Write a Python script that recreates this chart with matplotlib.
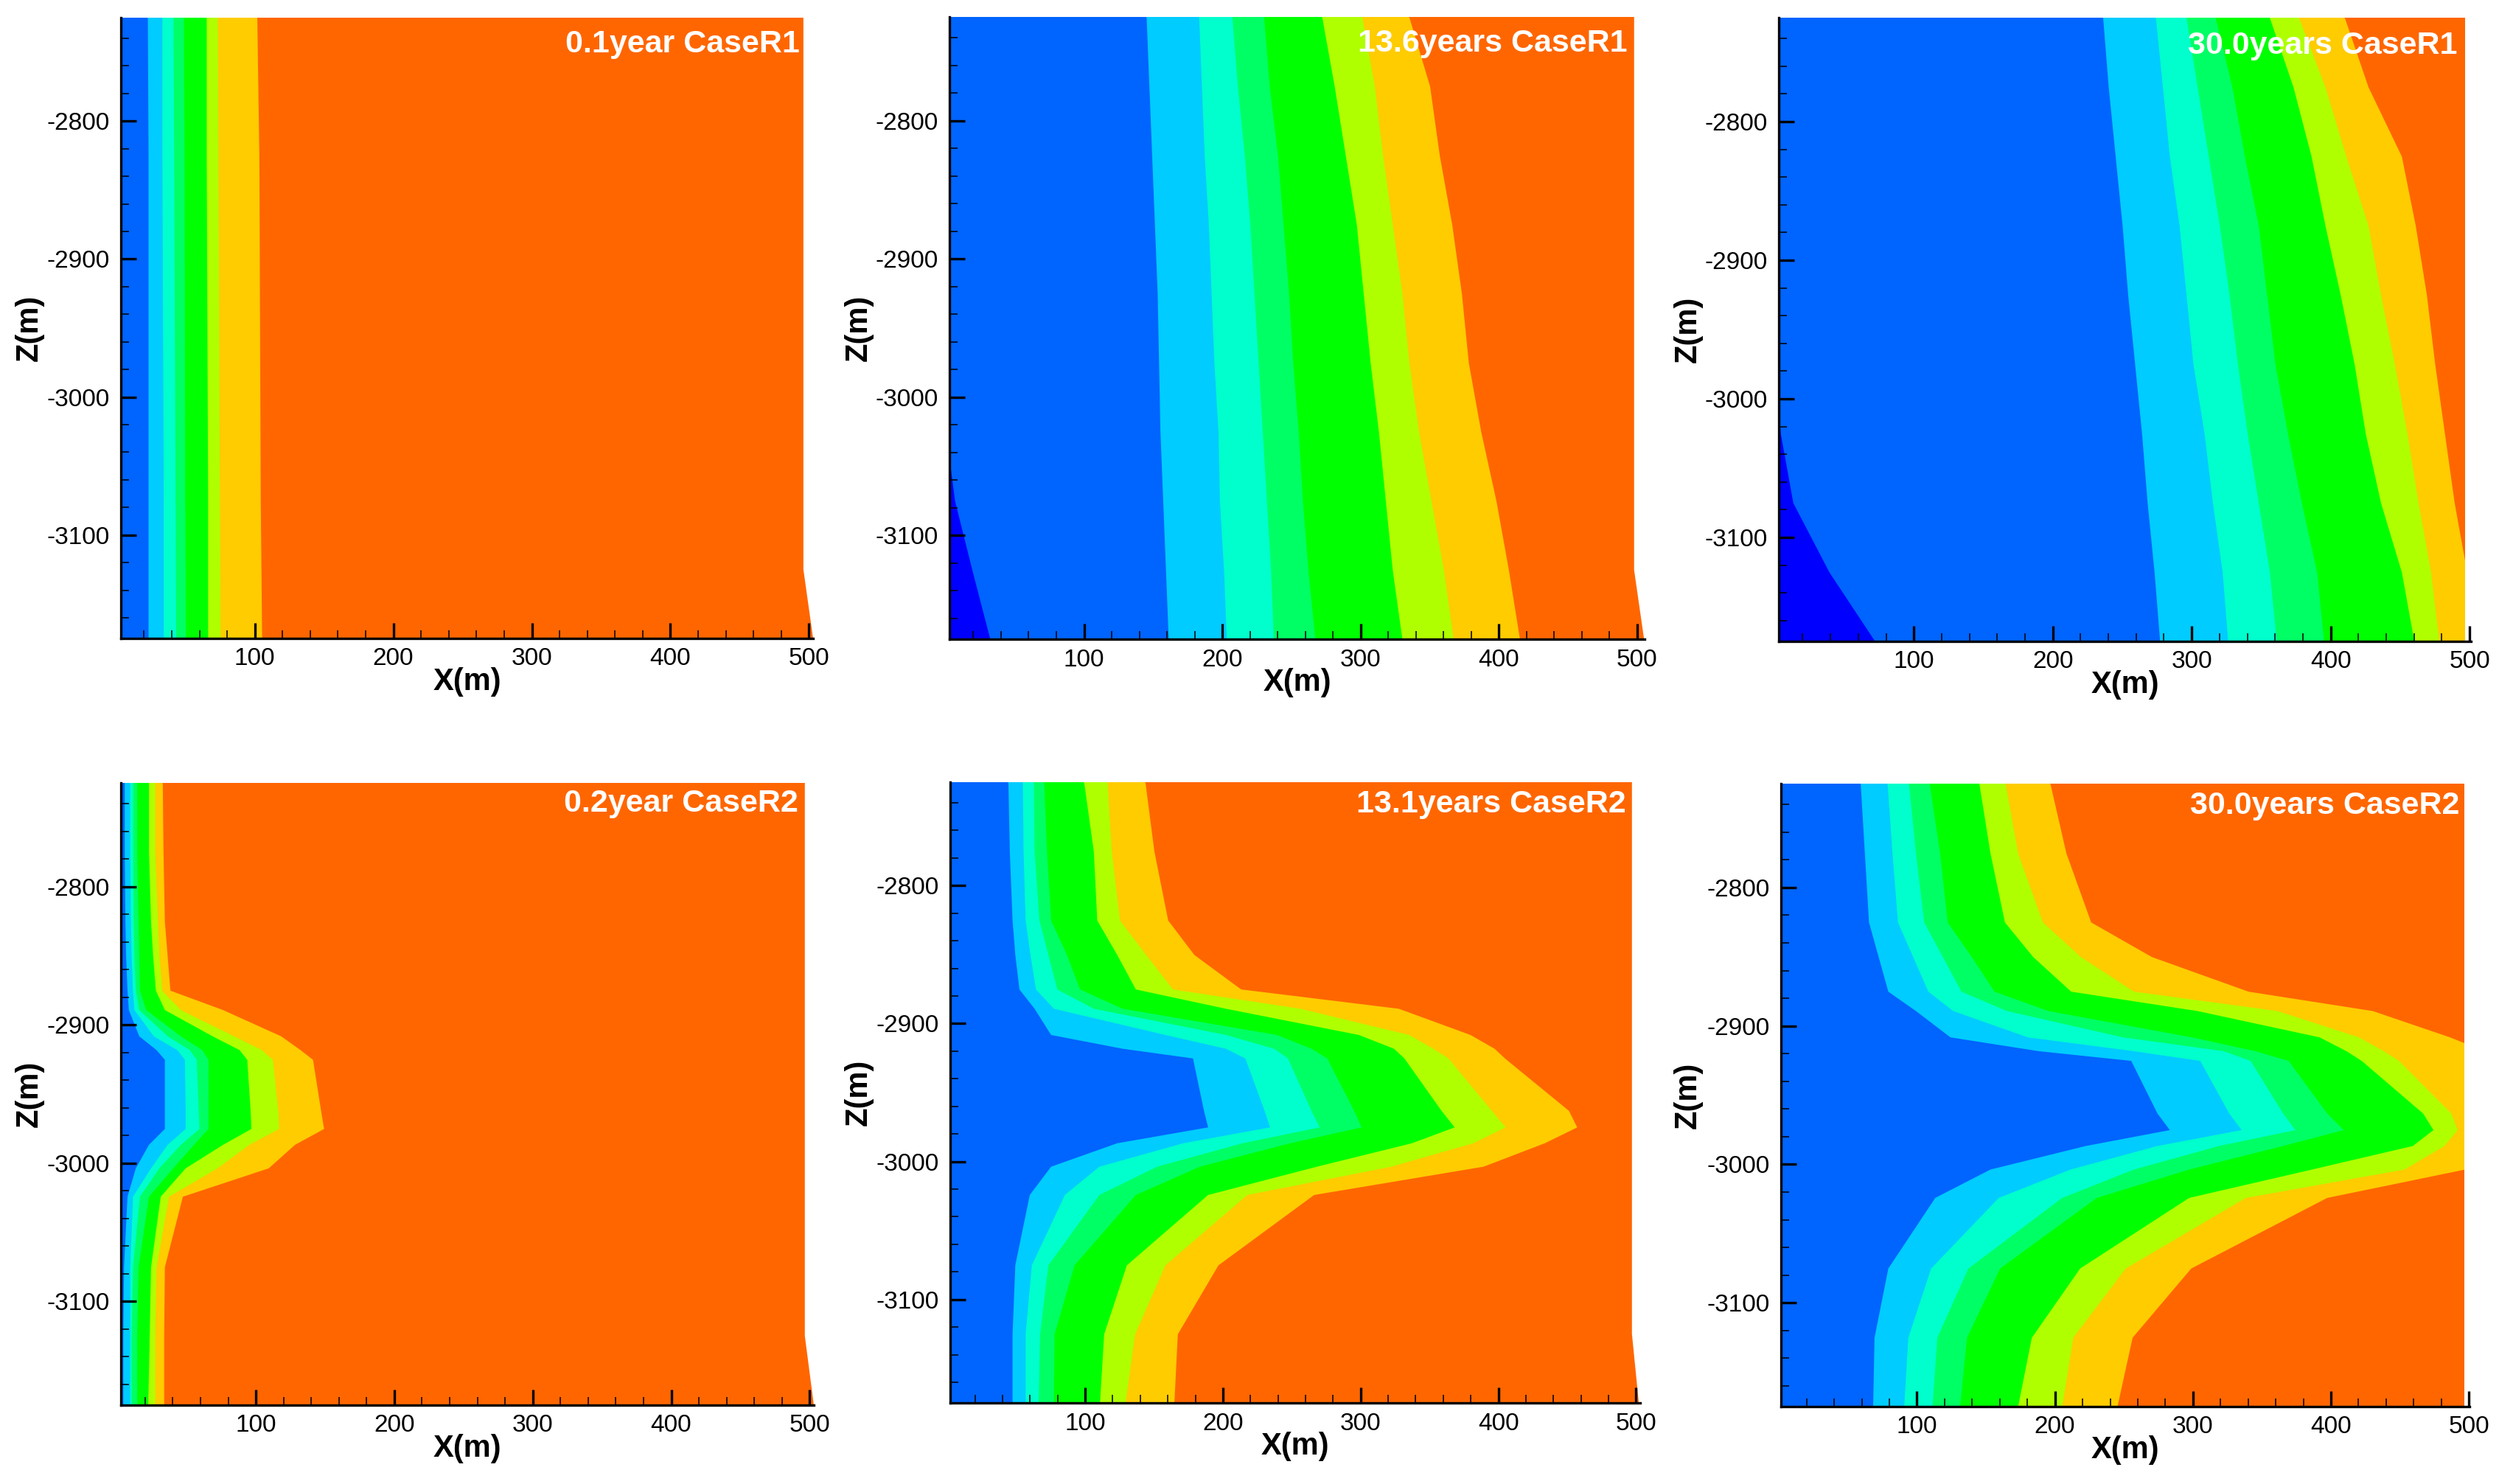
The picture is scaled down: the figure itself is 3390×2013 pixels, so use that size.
import matplotlib
matplotlib.use('Agg')
import matplotlib.pyplot as plt
from matplotlib.ticker import MultipleLocator

plt.rcParams['font.family'] = ['Liberation Sans', 'DejaVu Sans']

W, H = 3390, 2013

# contour levels, dark blue to orange (right hand colour of each boundary)
fill_colors = ['#0064FF', '#00CCFF', '#00FFCC', '#00FF64', '#00FF00', '#B0FF00', '#FFCC00']
orange = '#FF6600'
dark_blue = '#0000FF'

# boundary depths for the flat panel and the two later R1 panels
z_r1_early = [-2725, -2825, -3075, -3175]
z_r1 = [-2725, -2775, -2825, -2875, -2925, -2975, -3025, -3075, -3125, -3175]
# R2 panels have more nodes around the high perm layer
z_r2 = [-2725, -2775, -2825, -2850, -2875, -2889, -2908, -2918, -2925, -2963,
        -2975, -2986.5, -3003.5, -3024, -3075, -3125, -3175]

# right edge of each colour band, x in metres
r1_01 = [
    [22.5, 23, 23, 23],
    [33, 33, 34, 34],
    [41, 41.5, 42.5, 43],
    [48.5, 49, 49.5, 50],
    [65, 65, 66, 66],
    [73, 73.5, 74.5, 75],
    [101.5, 103, 104, 105],
]
r1_136 = [
    [145, 147, 149, 151, 153, 154, 155, 157, 159, 161],
    [183, 185, 187, 190, 192, 194, 197, 198, 201, 203],
    [207, 211, 216, 220, 223, 226, 229, 232, 235, 237],
    [230, 234, 240, 244, 248, 251, 255, 258, 262, 267],
    [272, 281, 289, 297, 302, 307, 313, 318, 323, 330],
    [301, 310, 316, 323, 330, 335, 342, 351, 360, 367],
    [335, 350, 357, 366, 373, 378, 387, 398, 407, 415],
]
r1_300 = [
    [236, 240, 245, 250, 254, 259, 264, 268, 273, 277],
    [274, 279, 284, 291, 296, 301, 309, 315, 322, 326],
    [296, 304, 312, 320, 327, 333, 340, 348, 356, 361],
    [317, 329, 338, 348, 354, 360, 369, 379, 390, 395],
    [356, 373, 386, 396, 407, 417, 425, 436, 451, 460],
    [377, 396, 411, 427, 436, 446, 455, 463, 472, 478],
    [410, 427, 451, 461, 469, 475, 482, 489, 498, 510],
]
r2_02 = [
    [5, 5, 5.5, 6, 7, 8, 15.5, 28, 34, 34, 34, 22.5, 13, 7, 4.5, 4, 4],
    [9, 9, 9.5, 10, 11, 12, 26, 43, 48.5, 49, 49, 36, 24, 11, 9, 9, 9],
    [11, 11, 11.5, 12, 13, 15.5, 36, 52, 57, 58.5, 59, 45.5, 30, 16, 11, 10, 10],
    [14, 14, 15, 15.5, 16, 20.5, 45.5, 61, 65.5, 65.5, 65.5, 55, 40, 22.5, 15, 14, 14],
    [22.5, 22.5, 24, 25.5, 27.5, 34, 68.5, 88, 93.5, 96, 96.5, 76, 49, 31, 24, 23, 22],
    [27, 27, 29, 30, 32, 45.5, 84, 104, 112, 116, 116.5, 95, 72, 37, 28, 27, 27],
    [32.5, 33, 34, 36, 38, 76, 118, 132, 141, 147, 149, 128, 109, 47, 34, 33.5, 33.5],
]
r2_131 = [
    [44, 45, 47, 49, 52, 63, 75, 127, 178, 186, 189, 123, 75, 59.5, 49, 47, 47],
    [54.5, 55, 56.5, 60, 64, 77, 158, 202, 216, 230, 234, 171, 110, 85, 61, 56.5, 56.5],
    [62.5, 63, 66.5, 73, 79.5, 106, 202, 237, 247, 264, 270, 214, 152, 110, 73, 67, 66],
    [70, 72, 75, 86.5, 96, 127, 239, 264, 275.5, 295, 300.5, 248.5, 183, 136.5, 92, 77.5, 77],
    [99, 106, 108.5, 123, 136.5, 202, 298.5, 324, 331.5, 358.5, 368, 337, 268, 189, 130, 113.5, 110.5],
    [116, 119, 125, 144, 163.5, 256, 335, 352.5, 363.5, 395, 405, 381.5, 322, 217.5, 158, 136, 129],
    [143.5, 150, 160, 179, 213, 327.5, 379.5, 397, 404.5, 451, 457, 433.5, 389, 266, 196.5, 167, 164.5],
]
r2_300 = [
    [59, 62, 65, 72, 79, 99, 124, 188, 255, 274, 283, 222, 153, 113, 79, 69, 68],
    [78.5, 82, 86, 97, 108, 126, 180, 257, 305, 326, 335, 274, 211, 159, 110, 93.5, 90.5],
    [94, 99, 105, 118.5, 132, 165, 249, 322, 341.5, 365, 374, 318.5, 257, 205, 137, 114.5, 111],
    [109, 116.5, 122, 139.5, 156, 195, 299, 345, 369, 397, 409, 365, 297, 230, 160, 136, 131],
    [145, 153, 163.5, 184, 211.5, 303, 391.5, 411, 422, 466.5, 474, 459, 386, 297, 218, 183, 173],
    [164, 173, 191, 218.5, 257, 361, 420, 438, 449, 487, 491.5, 482, 453, 338, 251, 213, 205],
    [196.5, 208, 226, 270, 340, 430, 486, 511, 518, 522, 522, 518, 497, 397, 298.5, 256, 245],
]

# lowest part of the field, only in the later R1 panels
dark_136 = [0, 0, 0, 0, 0, 0, 0, 6.5, 19, 32]
dark_300 = [0, 0, 0, 0, 0, 0, 4, 13, 39, 72]

# model edge, slants out near the bottom in some panels
edge_z = [-2725, -3125, -3175]
edge_x_p1 = [496, 496, 503]
edge_x_p2 = [497.8, 497.8, 505]
edge_x_p3 = [496.5, 496.5, 496.5]
edge_x_p4 = [496.5, 496.5, 503]
edge_x_p5 = [497, 497, 502]
edge_x_p6 = [496.5, 496.5, 496.5]

titles = ['0.1year CaseR1', '13.6years CaseR1', '30.0years CaseR1',
          '0.2year CaseR2', '13.1years CaseR2', '30.0years CaseR2']

# left, right, top, bottom in pixels
boxes = [
    (164, 1103, 24, 866),
    (1288, 2231, 23, 867),
    (2413, 3352, 24, 870),
    (164, 1104, 1062, 1906),
    (1289, 2225, 1061, 1903),
    (2416, 3350, 1063, 1908),
]
xlims = [(3.3, 503), (2.7, 505.4), (2.8, 501), (2.5, 503), (2, 503), (1.5, 500.4)]
title_pos = [(493.5, -2744), (493, -2744), (491, -2745), (492, -2740), (492.6, -2741), (493, -2741)]

panels = [
    (z_r1_early, r1_01, None, edge_x_p1),
    (z_r1, r1_136, dark_136, edge_x_p2),
    (z_r1, r1_300, dark_300, edge_x_p3),
    (z_r2, r2_02, None, edge_x_p4),
    (z_r2, r2_131, None, edge_x_p5),
    (z_r2, r2_300, None, edge_x_p6),
]

fig = plt.figure(figsize=(W / 100, H / 100), dpi=100)

for i in range(6):
    z, bounds, dark, edge_x = panels[i]
    l, r, t, b = boxes[i]
    ax = fig.add_axes([l / W, 1 - b / H, (r - l) / W, (b - t) / H])
    x0 = xlims[i][0]

    # orange covers the whole model, the other bands are painted over it
    domain = ax.fill([x0] + edge_x + [x0], [edge_z[0]] + edge_z + [edge_z[-1]],
                     color=orange, lw=0)[0]
    for k in range(6, -1, -1):
        band = ax.fill_betweenx(z, x0, bounds[k], color=fill_colors[k], lw=0)
        band.set_clip_path(domain)
    if dark is not None:
        ax.fill_betweenx(z, x0, dark, where=[d > x0 for d in dark], interpolate=True,
                         color=dark_blue, lw=0)

    ax.set_xlim(*xlims[i])
    ax.set_ylim(-3175, -2725)
    ax.spines['top'].set_visible(False)
    ax.spines['right'].set_visible(False)
    ax.spines['left'].set_linewidth(2.4)
    ax.spines['bottom'].set_linewidth(2.4)
    ax.spines['left'].set_zorder(5)
    ax.spines['bottom'].set_zorder(5)

    ax.xaxis.set_major_locator(MultipleLocator(100))
    ax.xaxis.set_minor_locator(MultipleLocator(20))
    ax.yaxis.set_major_locator(MultipleLocator(100))
    ax.yaxis.set_minor_locator(MultipleLocator(20))
    ax.tick_params(which='major', direction='in', length=15, width=2.4, labelsize=24)
    ax.tick_params(which='minor', direction='in', length=8, width=1.1)
    ax.tick_params(axis='x', which='major', pad=9)
    ax.tick_params(axis='y', which='major', pad=11)
    ax.set_axisbelow(False)
    ax.set_yticks([-2800, -2900, -3000, -3100])
    ax.set_yticklabels(['-2800', '-2900', '-3000', '-3100'])

    ax.set_xlabel('X(m)', fontsize=30, fontweight='bold', va='center')
    ax.set_ylabel('Z(m)', fontsize=30, fontweight='bold', va='center')
    ax.xaxis.set_label_coords(0.5, -59 / (b - t))
    ax.yaxis.set_label_coords(-(l - (40 + (l // 1130) * 1125)) / (r - l), 0.5)

    ax.text(title_pos[i][0], title_pos[i][1], titles[i], color='white', fontsize=31,
            fontweight='bold', ha='right', va='center', zorder=6)

fig.savefig('out.png', dpi=100)
